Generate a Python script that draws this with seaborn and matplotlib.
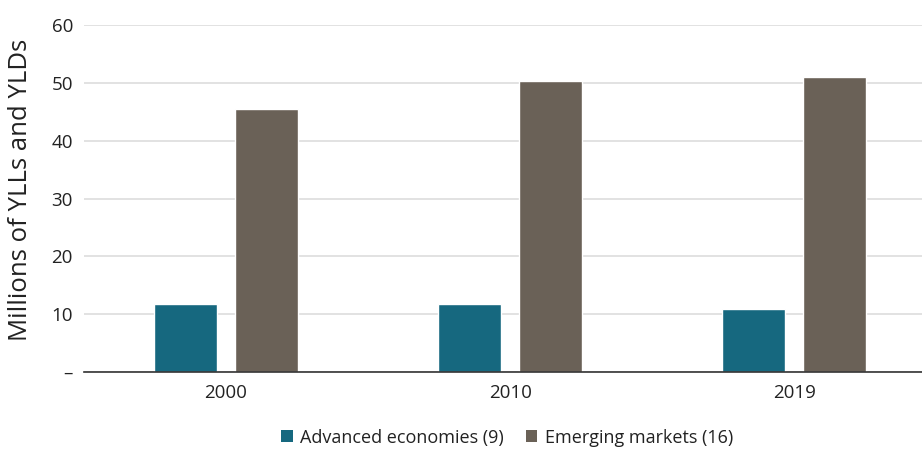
import matplotlib
matplotlib.use("Agg")
import matplotlib.pyplot as plt
import seaborn as sns
import pandas as pd

years = ["2000", "2010", "2019"]
advanced = [11.8, 11.8, 10.9]
emerging = [45.4, 50.3, 51.0]
series_names = ["Advanced economies (9)", "Emerging markets (16)"]
colors = ["#16687F", "#6A6157"]
yticks = [0, 10, 20, 30, 40, 50, 60]
ytick_labels = ["–", "10", "20", "30", "40", "50", "60"]

df = pd.DataFrame({
    "year": years * 2,
    "value": advanced + emerging,
    "series": [series_names[0]] * 3 + [series_names[1]] * 3,
})

sns.set_style("white")
plt.rcParams["font.family"] = ["Open Sans", "DejaVu Sans"]

fig = plt.figure(figsize=(9.22, 4.49), dpi=100)
ax = fig.add_axes([84 / 922, 1 - 372 / 449, 1 - 84 / 922, (372 - 25) / 449])

sns.barplot(data=df, x="year", y="value", hue="series", palette=colors,
            width=0.57, gap=0.22, ax=ax, legend=False, saturation=1)

ax.set_ylim(0, 60)
ax.set_xlim(-0.5, 2.45)
ax.set_yticks(yticks)
ax.set_yticklabels(ytick_labels)
ax.yaxis.grid(True, color="#DDDDDD", linewidth=1.2)
ax.set_axisbelow(True)
for s in ["top", "right", "left"]:
    ax.spines[s].set_visible(False)
ax.spines["bottom"].set_color("#333333")
ax.spines["bottom"].set_linewidth(1.2)
ax.tick_params(axis="both", length=0, labelsize=13.5, colors="#222222")
ax.tick_params(axis="x", pad=9)
ax.tick_params(axis="y", pad=8)
ax.set_xlabel("")
ax.set_ylabel("Millions of YLLs and YLDs", fontsize=18.5, color="#222222")
ax.yaxis.set_label_coords(-0.061, 0.524)

from matplotlib.patches import Patch
handles = [Patch(facecolor=c, edgecolor="none") for c in colors]
fig.legend(handles, series_names, loc="center", bbox_to_anchor=(0.55, 0.025),
           ncol=2, frameon=False, fontsize=13, handlelength=0.65, handleheight=0.65,
           handletextpad=0.4, columnspacing=1.2, labelcolor="#222222")

fig.savefig("out.png", dpi=100)
